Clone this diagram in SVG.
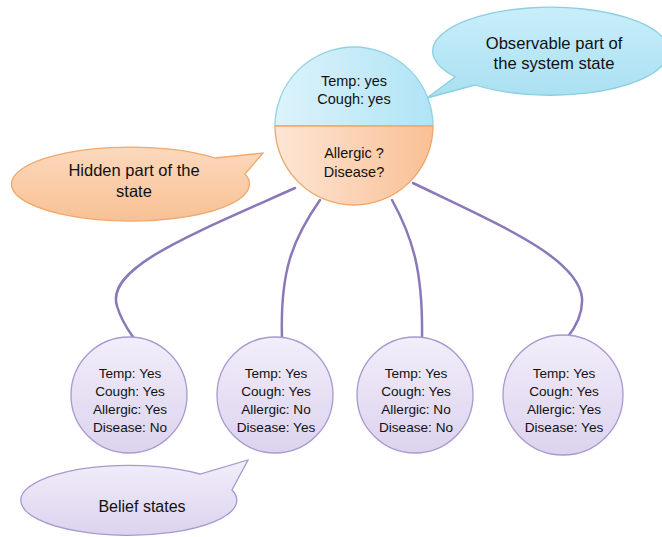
<svg xmlns="http://www.w3.org/2000/svg" width="662" height="537" viewBox="0 0 662 537">
<defs>
<linearGradient id="gBlue" x1="0" y1="0" x2="1" y2="0"><stop offset="0" stop-color="#dcf3fb"/><stop offset="1" stop-color="#b0e4f5"/></linearGradient>
<linearGradient id="gOrange" x1="0" y1="0" x2="1" y2="0"><stop offset="0" stop-color="#fde6d6"/><stop offset="1" stop-color="#f9c095"/></linearGradient>
<linearGradient id="gOrangeV" x1="0" y1="0" x2="0" y2="1"><stop offset="0" stop-color="#fcd9bd"/><stop offset="1" stop-color="#f8c195"/></linearGradient>
<linearGradient id="gBlueV" x1="0" y1="0" x2="0" y2="1"><stop offset="0" stop-color="#c9eefa"/><stop offset="1" stop-color="#a9e0f2"/></linearGradient>
<linearGradient id="gPurple" x1="0" y1="0" x2="0" y2="1"><stop offset="0" stop-color="#f2eefa"/><stop offset="1" stop-color="#dcd3ee"/></linearGradient>
</defs>
<style>
text{font-family:"Liberation Sans",Arial,sans-serif;fill:#111;text-anchor:middle}
.s13{font-size:13.6px}
.s14{font-size:14.5px}
.conn{fill:none;stroke:#8a78b8;stroke-width:2.5;stroke-linecap:round}
.pc{fill:url(#gPurple);stroke:#a899cf;stroke-width:1.3}
</style>
<g id="connectors">
<path class="conn" d="M295,188 C190,235 105,268 117,306 C121,320 128,330 133,337"/>
<path class="conn" d="M320,200 C292,240 280,272 282,338"/>
<path class="conn" d="M392,200 C413,238 423,272 422,338"/>
<path class="conn" d="M413,183 C500,225 578,258 582,298 C583,314 575,328 567,338"/>
</g>
<g id="callout-observable">
<path d="M475,85 A118,44 0 1 0 455,77 L427,98 Z" fill="url(#gBlueV)" stroke="#8ccfe3" stroke-width="1.3"/>
<text x="554" y="49" style="font-size:16.6px">Observable part of</text>
<text x="554" y="69" style="font-size:16.6px">the system state</text>
</g>
<g id="callout-hidden">
<path d="M245,174 A119,37 0 1 1 215,158 L263,153 Z" fill="url(#gOrangeV)" stroke="#f0a96c" stroke-width="1.3"/>
<text x="134" y="176" style="font-size:16.5px">Hidden part of the</text>
<text x="134" y="197" style="font-size:16.5px">state</text>
</g>
<g id="state-root">
<path d="M275,126 A79,79 0 0 1 433,126 Z" fill="url(#gBlue)" stroke="#92d2e6" stroke-width="1.3"/>
<path d="M275,126 A79,79 0 0 0 433,126 Z" fill="url(#gOrange)" stroke="#eea66a" stroke-width="1.3"/>
<text class="s14" x="354" y="86">Temp: yes</text>
<text class="s14" x="354" y="104">Cough: yes</text>
<text class="s14" x="354" y="158">Allergic ?</text>
<text class="s14" x="354" y="177">Disease?</text>
</g>
<g id="belief-1">
<circle class="pc" cx="129" cy="395" r="58"/>
<text class="s13" x="130" y="378">Temp: Yes</text>
<text class="s13" x="130" y="396">Cough: Yes</text>
<text class="s13" x="130" y="414">Allergic: Yes</text>
<text class="s13" x="130" y="432">Disease: No</text>
</g>
<g id="belief-2">
<circle class="pc" cx="275" cy="395" r="58"/>
<text class="s13" x="276" y="378">Temp: Yes</text>
<text class="s13" x="276" y="396">Cough: Yes</text>
<text class="s13" x="276" y="414">Allergic: No</text>
<text class="s13" x="276" y="432">Disease: Yes</text>
</g>
<g id="belief-3">
<circle class="pc" cx="415" cy="395" r="58"/>
<text class="s13" x="416" y="378">Temp: Yes</text>
<text class="s13" x="416" y="396">Cough: Yes</text>
<text class="s13" x="416" y="414">Allergic: No</text>
<text class="s13" x="416" y="432">Disease: No</text>
</g>
<g id="belief-4">
<circle class="pc" cx="563" cy="395" r="60"/>
<text class="s13" x="564" y="378">Temp: Yes</text>
<text class="s13" x="564" y="396">Cough: Yes</text>
<text class="s13" x="564" y="414">Allergic: Yes</text>
<text class="s13" x="564" y="432">Disease: Yes</text>
</g>
<g id="callout-belief">
<path d="M232,490 A108,35 0 1 1 200,474 L248,460 Z" fill="url(#gPurple)" stroke="#a899cf" stroke-width="1.3"/>
<text x="142" y="512" style="font-size:16px">Belief states</text>
</g>
</svg>
